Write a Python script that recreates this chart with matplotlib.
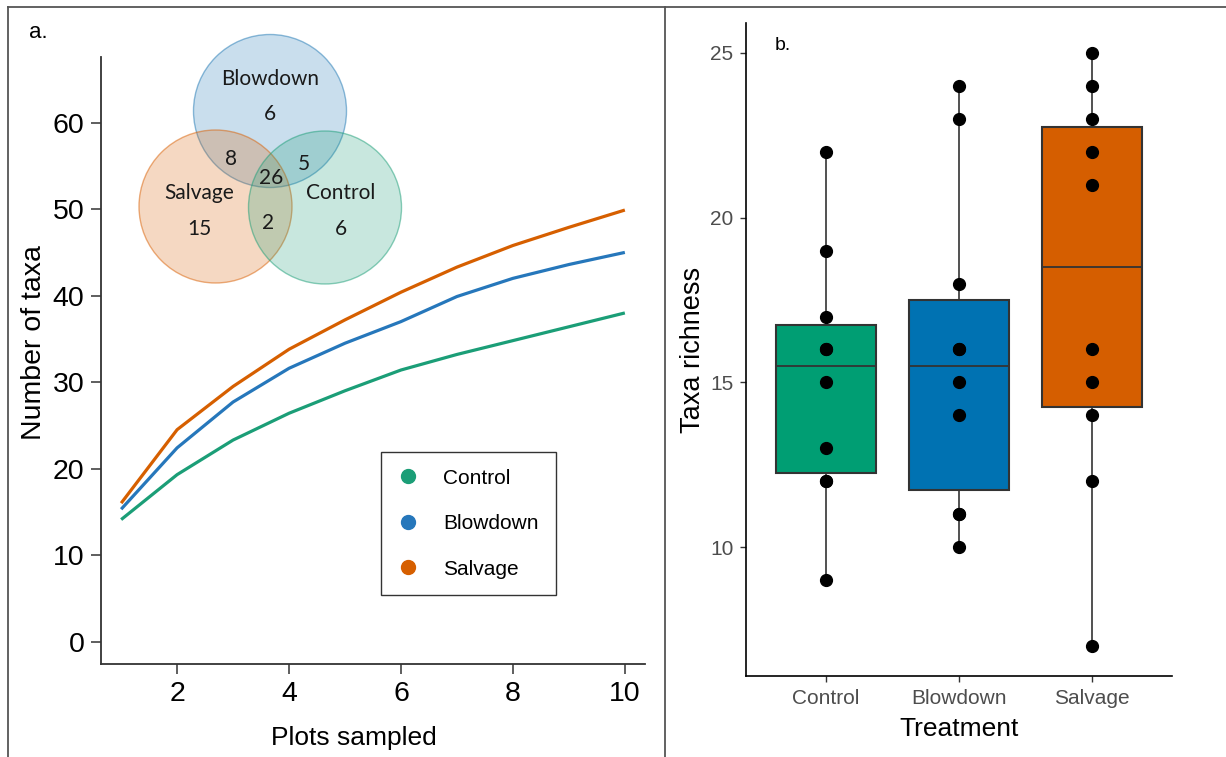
import numpy as np
from matplotlib import pyplot as plt
from matplotlib import patches, lines

# rarefaction curves (panel a)
plots_sampled = [1, 2, 3, 4, 5, 6, 7, 8, 9, 10]
control_taxa = [14.1, 19.3, 23.3, 26.4, 29.0, 31.4, 33.2, 34.8, 36.4, 38.0]
blowdown_taxa = [15.3, 22.4, 27.7, 31.6, 34.5, 37.0, 39.9, 42.0, 43.6, 45.0]
salvage_taxa = [16.0, 24.5, 29.5, 33.8, 37.2, 40.4, 43.3, 45.8, 47.9, 49.9]

# venn counts
venn_only = {'Blowdown': 6, 'Salvage': 15, 'Control': 6}
venn_pairs = {'Blowdown-Salvage': 8, 'Blowdown-Control': 5, 'Salvage-Control': 2}
venn_all = 26

# taxa richness per plot (panel b)
treatments = ['Control', 'Blowdown', 'Salvage']
richness_control = [9, 12, 12, 13, 15, 16, 16, 17, 19, 22]
richness_blowdown = [10, 11, 11, 14, 15, 16, 16, 18, 23, 24]
richness_salvage = [7, 12, 14, 15, 16, 21, 22, 23, 24, 25]

line_cols = {'Control': '#1b9e77', 'Blowdown': '#2677bb', 'Salvage': '#d65f00'}
box_cols = ['#009E73', '#0072B2', '#D55E00']

W, H = 1226, 757
fig = plt.figure(figsize=(W/100, H/100), dpi=100)

def fx(px):
    return px / W

def fy(py):
    return 1 - py / H

###########
# panel a #
###########
ax = fig.add_axes([fx(101), fy(664), fx(645) - fx(101), fy(57) - fy(664)])
for name, vals in [('Control', control_taxa), ('Blowdown', blowdown_taxa), ('Salvage', salvage_taxa)]:
    ax.plot(plots_sampled, vals, color=line_cols[name], lw=2.3, solid_capstyle='butt')
ax.set_xlim(0.64, 10.36)
ax.set_ylim(-2.6, 67.6)
ax.set_xticks([2, 4, 6, 8, 10])
ax.set_yticks(range(0, 61, 10))
for s in ['top', 'right']:
    ax.spines[s].set_visible(False)
for s in ['left', 'bottom']:
    ax.spines[s].set_color('#333333')
    ax.spines[s].set_linewidth(1.3)
ax.tick_params(length=7, width=1.1, color='#333333', labelsize=20.5, pad=5)
for t in ax.get_xticklabels() + ax.get_yticklabels():
    t.set_fontfamily('Liberation Sans')
ax.set_xlabel('Plots sampled', fontsize=19, family='Liberation Sans')
ax.set_ylabel('Number of taxa', fontsize=20.5, family='Liberation Sans')
ax.xaxis.set_label_coords((354 - 101) / 544, -(726 - 664) / 607)
ax.yaxis.set_label_coords((47 - 101) / 544, 1 - (343 - 57) / 607)

handles = [lines.Line2D([], [], ls='', marker='o', ms=10, color=line_cols[n]) for n in treatments]
leg = ax.legend(handles, treatments, loc='upper left', bbox_to_anchor=(fx(381), fy(452)),
                bbox_transform=fig.transFigure, frameon=True, fancybox=False,
                prop={'family': 'Liberation Sans', 'size': 15}, handlelength=1.0,
                handletextpad=1.2, labelspacing=1.27, borderpad=0.8, borderaxespad=0)
leg.get_frame().set_edgecolor('black')
leg.get_frame().set_linewidth(1.0)

fig.text(fx(38), fy(33), 'a.', fontsize=16, family='Liberation Sans', ha='center', va='center')

# venn diagram in its own pixel-scaled axes
vx0, vx1, vy0, vy1 = 130, 410, 25, 290
vax = fig.add_axes([fx(vx0), fy(vy1), fx(vx1) - fx(vx0), fy(vy0) - fy(vy1)])
vax.set_xlim(vx0, vx1)
vax.set_ylim(vy1, vy0)
vax.axis('off')
circles = {'Blowdown': ((270, 111), '#1f78b4'),
           'Salvage': ((215.5, 206.5), '#d95f02'),
           'Control': ((325, 207.5), '#1b9e77')}
for name, (c, col) in circles.items():
    vax.add_patch(patches.Circle(c, 76.5, facecolor=col, alpha=0.24, edgecolor='none'))
    vax.add_patch(patches.Circle(c, 76.5, facecolor='none', edgecolor=col, alpha=0.5, lw=1.0))
vfont = dict(family='Lato', fontsize=15, ha='center', va='center', color='#1a1a1a')
vax.text(270, 79, 'Blowdown', **vfont)
vax.text(270, 114, str(venn_only['Blowdown']), **vfont)
vax.text(199, 193, 'Salvage', **vfont)
vax.text(199, 229, str(venn_only['Salvage']), **vfont)
vax.text(341, 193, 'Control', **vfont)
vax.text(341, 229, str(venn_only['Control']), **vfont)
vax.text(231, 159, str(venn_pairs['Blowdown-Salvage']), **vfont)
vax.text(304, 164, str(venn_pairs['Blowdown-Control']), **vfont)
vax.text(268, 223, str(venn_pairs['Salvage-Control']), **vfont)
vax.text(271, 178, str(venn_all), **vfont)

###########
# panel b #
###########
bx = fig.add_axes([fx(746), fy(676), fx(1172) - fx(746), fy(23) - fy(676)])
data = [richness_control, richness_blowdown, richness_salvage]
pos = [1, 2, 3]
bp = bx.boxplot(data, positions=pos, widths=0.75, patch_artist=True, showcaps=False,
                showfliers=False, whis=1.5,
                boxprops=dict(edgecolor='#333333', linewidth=1.5),
                medianprops=dict(color='#333333', linewidth=1.3),
                whiskerprops=dict(color='#333333', linewidth=1.2))
for patch, col in zip(bp['boxes'], box_cols):
    patch.set_facecolor(col)
for p, vals in zip(pos, data):
    bx.plot([p] * len(vals), vals, ls='', marker='o', ms=8.5, color='black', zorder=5)
bx.set_xlim(0.4, 3.6)
bx.set_ylim(6.1, 25.9)
bx.set_xticks(pos)
bx.set_xticklabels(treatments)
bx.set_yticks([10, 15, 20, 25])
for s in ['top', 'right']:
    bx.spines[s].set_visible(False)
for s in ['left', 'bottom']:
    bx.spines[s].set_linewidth(1.2)
bx.tick_params(length=4, width=1, color='#333333', labelcolor='#4d4d4d', labelsize=15, pad=5)
for t in bx.get_xticklabels() + bx.get_yticklabels():
    t.set_fontfamily('Liberation Sans')
bx.set_xlabel('Treatment', fontsize=19, family='Liberation Sans')
bx.set_ylabel('Taxa richness', fontsize=19.5, family='Liberation Sans')
bx.xaxis.set_label_coords(0.5, -(717 - 676) / 653)
bx.yaxis.set_label_coords((706 - 746) / 426, 0.5)
fig.text(fx(783), fy(45), 'b.', fontsize=14, family='Liberation Sans', ha='center', va='center')

# outer frame lines
frame_kw = dict(color='#555555', lw=1.3, transform=fig.transFigure)
fig.add_artist(lines.Line2D([fx(8), 1], [fy(7), fy(7)], **frame_kw))
fig.add_artist(lines.Line2D([fx(8), fx(8)], [0, fy(7)], **frame_kw))
fig.add_artist(lines.Line2D([fx(665), fx(665)], [0, fy(7)], **frame_kw))

fig.savefig('out.png', dpi=100)
